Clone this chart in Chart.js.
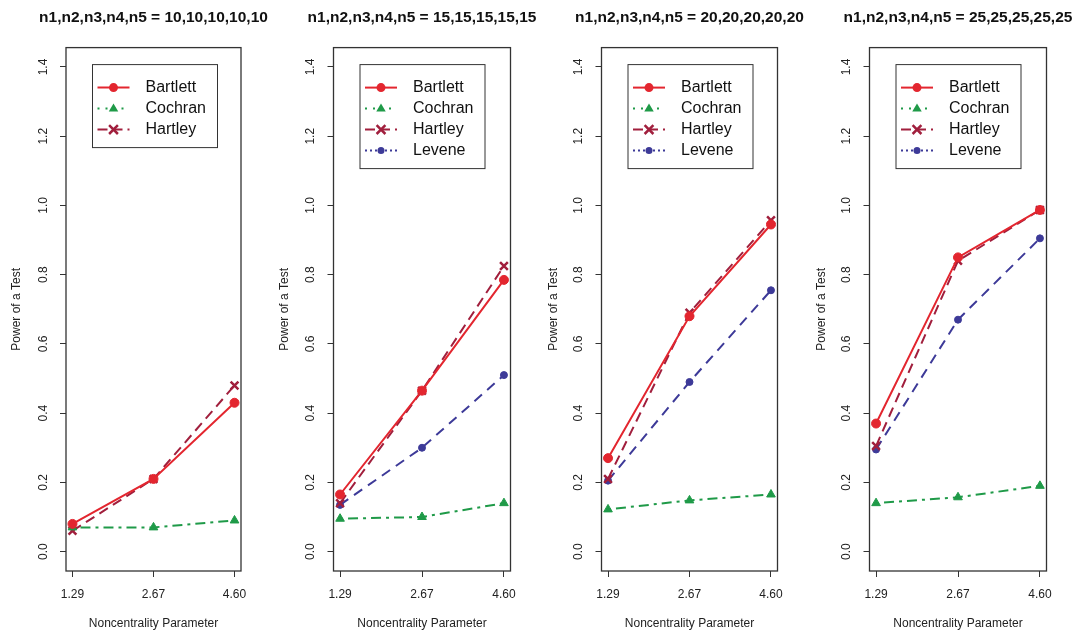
<!DOCTYPE html>
<html>
<head>
<meta charset="utf-8">
<script src="https://cdn.jsdelivr.net/npm/chart.js@4.4.1/dist/chart.umd.min.js"></script>
<style>
  html, body { margin: 0; padding: 0; background: #fff; }
  #wrap { position: relative; width: 1075px; height: 631px; overflow: hidden; }
  canvas { position: absolute; top: 0; }
</style>
</head>
<body>
<div id="wrap">
  <canvas id="c10" width="268" height="631" style="left:0px"></canvas>
  <canvas id="c15" width="269" height="631" style="left:268px"></canvas>
  <canvas id="c20" width="268" height="631" style="left:537px"></canvas>
  <canvas id="c25" width="270" height="631" style="left:805px"></canvas>
</div>
<script>
const xLabels = ['1.29', '2.67', '4.60'];
const yTicks = [0.0, 0.2, 0.4, 0.6, 0.8, 1.0, 1.2, 1.4];

// n = 10
const bartlett10 = [0.08, 0.21, 0.43];
const cochran10 = [0.07, 0.07, 0.09];
const hartley10 = [0.06, 0.21, 0.48];

// n = 15
const bartlett15 = [0.165, 0.465, 0.785];
const cochran15 = [0.095, 0.10, 0.14];
const hartley15 = [0.14, 0.465, 0.825];
const levene15 = [0.135, 0.30, 0.51];

// n = 20
const bartlett20 = [0.27, 0.68, 0.945];
const cochran20 = [0.122, 0.148, 0.165];
const hartley20 = [0.21, 0.69, 0.957];
const levene20 = [0.205, 0.49, 0.755];

// n = 25
const bartlett25 = [0.37, 0.85, 0.987];
const cochran25 = [0.14, 0.157, 0.19];
const hartley25 = [0.305, 0.84, 0.987];
const levene25 = [0.295, 0.67, 0.905];

const FONT = '"Liberation Sans", Arial, sans-serif';
Chart.defaults.font.family = FONT;

const styles = {
    Bartlett: { color: '#e3262f', dash: [], legendDash: [], point: 'circle', radius: 4.5, bw: 1 },
    Cochran: { color: '#1f9a48', dash: [3, 5, 10, 5], legendDash: [2, 6], point: 'triangle', radius: 5, bw: 1 },
    Hartley: { color: '#a11f3d', dash: [10, 6], legendDash: [10, 5], point: 'crossRot', radius: 5.5, bw: 2.5 },
    Levene: { color: '#3d3a98', dash: [10, 7], legendDash: [2, 3], point: 'circle', radius: 3.5, bw: 1 }
};

const panels = [
    { id: 'c10', title: 'n1,n2,n3,n4,n5 = 10,10,10,10,10', left: 66, right: 27,
      series: { Bartlett: bartlett10, Cochran: cochran10, Hartley: hartley10 } },
    { id: 'c15', title: 'n1,n2,n3,n4,n5 = 15,15,15,15,15', left: 65.5, right: 26.5,
      series: { Bartlett: bartlett15, Cochran: cochran15, Hartley: hartley15, Levene: levene15 } },
    { id: 'c20', title: 'n1,n2,n3,n4,n5 = 20,20,20,20,20', left: 64.5, right: 27.5,
      series: { Bartlett: bartlett20, Cochran: cochran20, Hartley: hartley20, Levene: levene20 } },
    { id: 'c25', title: 'n1,n2,n3,n4,n5 = 25,25,25,25,25', left: 64.5, right: 28.5,
      series: { Bartlett: bartlett25, Cochran: cochran25, Hartley: hartley25, Levene: levene25 } }
];

function marker(ctx, s, x, y) {
    ctx.fillStyle = s.color;
    ctx.strokeStyle = s.color;
    ctx.lineWidth = s.bw;
    ctx.beginPath();
    if (s.point === 'circle') {
        ctx.arc(x, y, s.radius, 0, Math.PI * 2);
        ctx.fill();
    } else if (s.point === 'triangle') {
        const r = s.radius;
        ctx.moveTo(x, y - r);
        ctx.lineTo(x + r * 0.95, y + r * 0.6);
        ctx.lineTo(x - r * 0.95, y + r * 0.6);
        ctx.closePath();
        ctx.fill();
    } else {
        const r = s.radius * 0.8;
        ctx.moveTo(x - r, y - r); ctx.lineTo(x + r, y + r);
        ctx.moveTo(x + r, y - r); ctx.lineTo(x - r, y + r);
        ctx.stroke();
    }
}

// box round the plot region, like R's box()
const frame = {
    id: 'frame',
    beforeDatasetsDraw(chart) {
        const { ctx, chartArea: a } = chart;
        ctx.save();
        ctx.strokeStyle = '#333';
        ctx.lineWidth = 1.3;
        ctx.strokeRect(a.left, a.top, a.right - a.left, a.bottom - a.top);
        ctx.restore();
    }
};

// main title is centred over the plot region but may be wider than it
const wideTitle = {
    id: 'wideTitle',
    afterLayout(chart) {
        const t = chart.titleBlock;
        const a = chart.chartArea;
        const c = (a.left + a.right) / 2;
        t.left = c - 130;
        t.right = c + 130;
        t.width = 260;
    }
};

const boxLegend = {
    id: 'boxLegend',
    afterDatasetsDraw(chart, args, opts) {
        const { ctx, chartArea: a } = chart;
        const sets = chart.data.datasets;
        const x0 = a.left + opts.dx, y0 = a.top + opts.dy;
        const h = 23 + 21 * (sets.length - 1) + 18;
        ctx.save();
        ctx.fillStyle = '#fff';
        ctx.fillRect(x0, y0, opts.w, h);
        ctx.strokeStyle = '#333';
        ctx.lineWidth = 1;
        ctx.strokeRect(x0, y0, opts.w, h);
        sets.forEach((d, i) => {
            const s = styles[d.label];
            const y = y0 + 23 + 21 * i;
            ctx.strokeStyle = s.color;
            ctx.lineWidth = 2;
            ctx.setLineDash(s.legendDash);
            ctx.beginPath();
            ctx.moveTo(x0 + 5, y);
            ctx.lineTo(x0 + 37, y);
            ctx.stroke();
            ctx.setLineDash([]);
            marker(ctx, s, x0 + 21, y);
            ctx.fillStyle = '#111';
            ctx.font = '16px ' + FONT;
            ctx.textBaseline = 'middle';
            ctx.textAlign = 'left';
            ctx.fillText(d.label, x0 + 53, y);
        });
        ctx.restore();
    }
};

panels.forEach(p => {
    const datasets = Object.keys(p.series).map(name => {
        const s = styles[name];
        return {
            label: name,
            data: p.series[name].map((v, i) => ({ x: i + 1, y: v })),
            borderColor: s.color,
            backgroundColor: s.color,
            borderWidth: 2,
            borderDash: s.dash,
            pointStyle: s.point,
            pointRadius: s.radius,
            pointBackgroundColor: s.color,
            pointBorderColor: s.color,
            pointBorderWidth: s.bw,
            tension: 0,
            fill: false
        };
    });

    new Chart(document.getElementById(p.id), {
        type: 'line',
        data: { datasets },
        options: {
            responsive: false,
            animation: false,
            devicePixelRatio: 1,
            layout: { padding: { left: 0, right: p.right, top: 0, bottom: 0 } },
            scales: {
                x: {
                    type: 'linear',
                    min: 0.92,
                    max: 3.08,
                    afterBuildTicks: sc => { sc.ticks = xLabels.map((l, i) => ({ value: i + 1 })); },
                    afterFit: sc => { sc.height = 60; },
                    ticks: {
                        callback: (v, i) => xLabels[i],
                        font: { size: 12 },
                        color: '#222',
                        padding: 10,
                        maxRotation: 0
                    },
                    grid: { drawOnChartArea: false, tickLength: 6, color: '#333' },
                    border: { display: false },
                    title: {
                        display: true,
                        text: 'Noncentrality Parameter',
                        font: { size: 12 },
                        color: '#222',
                        padding: { top: 0, bottom: 0 }
                    }
                },
                y: {
                    min: -0.056,
                    max: 1.456,
                    afterBuildTicks: sc => { sc.ticks = yTicks.map(v => ({ value: v })); },
                    afterFit: sc => { sc.width = p.left; },
                    ticks: {
                        callback: v => v.toFixed(1),
                        minRotation: 90,
                        maxRotation: 90,
                        crossAlign: 'center',
                        padding: 8,
                        font: { size: 12 },
                        color: '#222'
                    },
                    grid: { drawOnChartArea: false, tickLength: 6, color: '#333' },
                    border: { display: false },
                    title: {
                        display: true,
                        text: 'Power of a Test',
                        font: { size: 12 },
                        color: '#222',
                        padding: { top: 9, bottom: 0 }
                    }
                }
            },
            plugins: {
                legend: { display: false },
                tooltip: { enabled: false },
                title: {
                    display: true,
                    text: p.title,
                    font: { size: 15.5, weight: 'bold' },
                    color: '#111',
                    padding: { top: 8, bottom: 21 }
                },
                boxLegend: { dx: 26.5, dy: 17, w: 125 }
            }
        },
        plugins: [frame, wideTitle, boxLegend]
    });
});
</script>
</body>
</html>
